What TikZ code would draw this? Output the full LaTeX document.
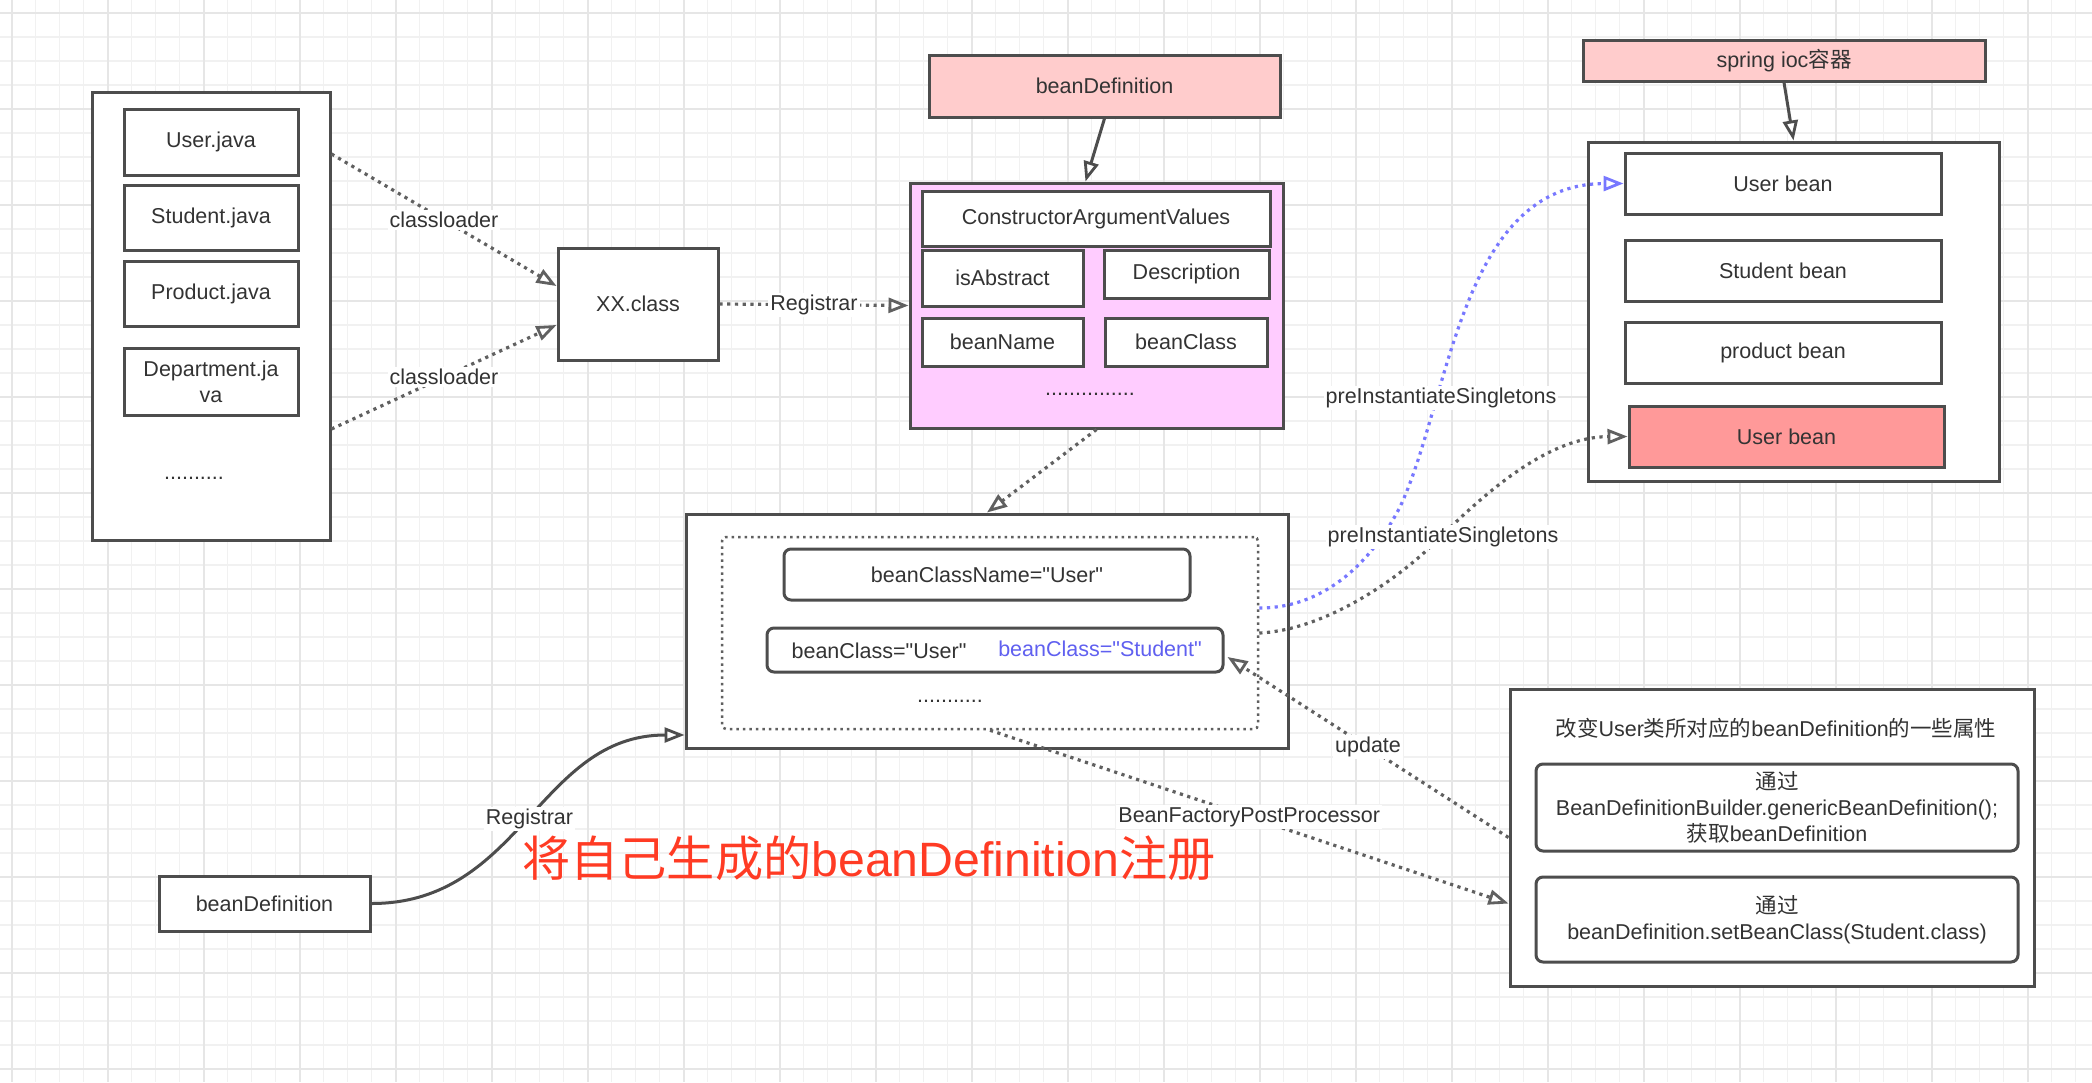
\documentclass[tikz,border=0pt]{standalone}
\usepackage{fontspec}
\setmainfont{Liberation Sans}[Ligatures=TeXOff]
\newfontfamily\cjk{Noto Sans CJK SC}
\usetikzlibrary{arrows.meta,calc}
\newcommand\nf{\fontsize{21.5pt}{26pt}\selectfont}
\definecolor{ln}{HTML}{4D4D4D}
\definecolor{tx}{HTML}{333333}
\definecolor{dotc}{HTML}{606060}
\definecolor{blu}{HTML}{7878FF}
\definecolor{blut}{HTML}{6060F0}
\definecolor{pinka}{HTML}{FFCCCC}
\definecolor{pinkb}{HTML}{FFCCFF}
\definecolor{redb}{HTML}{FF9999}
\definecolor{redt}{HTML}{FF3B24}
\definecolor{gmin}{HTML}{F1F1F1}
\definecolor{gmaj}{HTML}{E6E6E6}
\tikzset{
  box/.style={draw=ln, line width=3pt, fill=white, text=tx, font=\nf, inner sep=0pt, align=center},
  rbox/.style={box, rounded corners=7pt},
  lbl/.style={fill=white, text=tx, font=\nf, inner sep=2pt},
  plain/.style={text=tx, font=\nf, inner sep=0pt},
  tipo/.style={-{Triangle[length=20pt,width=15pt,line width=2.8pt,fill=white]}},
  dotl/.style={draw=dotc, line width=3.2pt, dash pattern=on 3.2pt off 4.5pt, tipo},
  soll/.style={draw=ln, line width=3pt, tipo},
  bluel/.style={dotl, draw=blu},
  innerdot/.style={draw=dotc, line width=2.5pt, dash pattern=on 2.5pt off 4pt, rounded corners=4pt, inner sep=0pt},
}
\begin{document}
\begin{tikzpicture}[x=1pt,y=-1pt]
\useasboundingbox (0,0) rectangle (2092,1082);
\fill[white] (0,0) rectangle (2092,1082);
% grid
\foreach \k in {0,...,86}{
  \pgfmathsetmacro\gx{11.7+24*\k}
  \draw[gmin, line width=1.2pt] (\gx,0) -- (\gx,1082);
}
\foreach \k in {0,...,44}{
  \pgfmathsetmacro\gy{13+24*\k}
  \draw[gmin, line width=1.2pt] (0,\gy) -- (2092,\gy);
}
\foreach \k in {0,...,21}{
  \pgfmathsetmacro\gx{11.7+96*\k}
  \draw[gmaj, line width=1.6pt] (\gx,0) -- (\gx,1082);
}
\foreach \k in {0,...,11}{
  \pgfmathsetmacro\gy{13+96*\k}
  \draw[gmaj, line width=1.6pt] (0,\gy) -- (2092,\gy);
}

% left container
\node[box, minimum width=238pt, minimum height=448pt] (lc) at (211,316) {};
\node[box, minimum width=174pt, minimum height=66pt] (uj) at (211,142) {User.java};
\node[box, minimum width=174pt, minimum height=65pt] (sj) at (211,217.5) {Student.java};
\node[box, minimum width=174pt, minimum height=65pt] (pj) at (211,293.5) {Product.java};
\node[box, minimum width=174pt, minimum height=67pt] (dj) at (211,381.5) {Department.ja\\va};
\node[plain] (ldots) at (194,478) {..........};

% XX.class
\node[box, minimum width=160pt, minimum height=112pt] (xx) at (638,304) {XX.class};

% beanDefinition top
\node[box, fill=pinka, minimum width=351pt, minimum height=62pt] (bdt) at (1104.5,86) {beanDefinition};
% pink container
\node[box, fill=pinkb, minimum width=373pt, minimum height=245pt] (bdp) at (1096.5,305.5) {};
\node[box, minimum width=348pt, minimum height=55pt] (cav) at (1096,218.5) {ConstructorArgumentValues};
\node[box, minimum width=161pt, minimum height=56pt] (abs) at (1002.5,278) {isAbstract};
\node[box, minimum width=165pt, minimum height=48pt] (desc) at (1186.5,274) {Description};
\node[box, minimum width=161pt, minimum height=48pt] (bn) at (1002.5,342) {beanName};
\node[box, minimum width=162pt, minimum height=48pt] (bc) at (1186,342) {beanClass};
\node[plain] (pdots) at (1090,394) {...............};

% main box
\node[box, minimum width=602pt, minimum height=234pt] (mb) at (987,631) {};
\node[innerdot, minimum width=536pt, minimum height=192pt] (innr) at (990,633) {};
\node[rbox, minimum width=406pt, minimum height=51pt] (bcn) at (987,574.5) {beanClassName="User"};
\node[rbox, minimum width=456pt, minimum height=44pt] (bcl) at (995,650) {};
\node[plain] (bclu) at (879,651) {beanClass="User"};
\node[plain, text=blut] (bcls) at (1100,649) {beanClass="Student"};
\node[plain] (mdots) at (950,701) {...........};

% spring ioc
\node[box, fill=pinka, minimum width=402pt, minimum height=41pt] (sic) at (1784,60.5) {spring ioc{\cjk 容器}};
\node[box, minimum width=411pt, minimum height=339pt] (ioc) at (1793.5,311.5) {};
\node[box, minimum width=316pt, minimum height=61pt] (ub1) at (1783,183.5) {User bean};
\node[box, minimum width=316pt, minimum height=61pt] (sb) at (1783,270.5) {Student bean};
\node[box, minimum width=316pt, minimum height=61pt] (pb) at (1783,352.5) {product bean};
\node[box, fill=redb, minimum width=315pt, minimum height=61pt] (ub2) at (1786.5,436.5) {User bean};

% bottom beanDefinition
\node[box, minimum width=211pt, minimum height=55pt] (bdb) at (264.5,903.5) {beanDefinition};

% right bottom container
\node[box, minimum width=524pt, minimum height=297pt] (rc) at (1772,837.5) {};
\node[plain] (rct) at (1776,728) {{\cjk 改变}User{\cjk 类所对应的}beanDefinition{\cjk 的一些属性}};
\node[rbox, minimum width=482pt, minimum height=87pt] (rb1) at (1777,807.5) {{\cjk 通过}\\BeanDefinitionBuilder.genericBeanDefinition();\\{\cjk 获取}beanDefinition};
\node[rbox, minimum width=482pt, minimum height=85pt] (rb2) at (1777,919.5) {{\cjk 通过}\\beanDefinition.setBeanClass(Student.class)};

% red text
\node[anchor=west, text=redt, font=\fontsize{48.2pt}{58pt}\selectfont, inner sep=0pt] (regt) at (522,858) {{\cjk 将自己生成的}beanDefinition{\cjk 注册}};

% connectors
\draw[dotl] ($(lc.east)+(0,-162)$) -- node[lbl]{classloader} ($(xx.west)+(0,-18)$);
\draw[dotl] ($(lc.east)+(0,113)$) -- node[lbl]{classloader} ($(xx.west)+(0,21)$);
\draw[dotl] (xx.east) -- node[lbl]{Registrar} (bdp.west);
\draw[soll] (bdt.south) -- ($(bdp.north)+(-11,0)$);
\draw[soll] (sic.south) -- (ioc.north);
\draw[dotl] (bdp.south) -- (mb.north);
\draw[soll] (bdb.east) .. controls +(150,0) and +(-146,0) .. ($(mb.west)+(0,104)$) node[lbl,pos=0.5]{Registrar};

\coordinate (bw) at (1400,507);
\coordinate (gw) at (1427,550);
\draw[bluel] ($(innr.east)+(0,-25)$) .. controls (1330,608) and (1375,555) .. (bw) .. controls (1450,400) and (1460,184) .. (ub1.west);
\node[lbl] (pre1) at (1441,398) {preInstantiateSingletons};
\draw[dotl] (innr.east) .. controls (1325,630) and (1395,580) .. (gw) .. controls (1470,508) and (1540,437) .. (ub2.west);
\node[lbl] (pre2) at (1443,537) {preInstantiateSingletons};

\draw[dotl] (rc.west) -- node[lbl]{update} ($(bcl.east)+(3,7)$);
\draw[dotl] (innr.south) -- node[lbl]{BeanFactoryPostProcessor} ($(rc.west)+(0,66)$);
\end{tikzpicture}
\end{document}
